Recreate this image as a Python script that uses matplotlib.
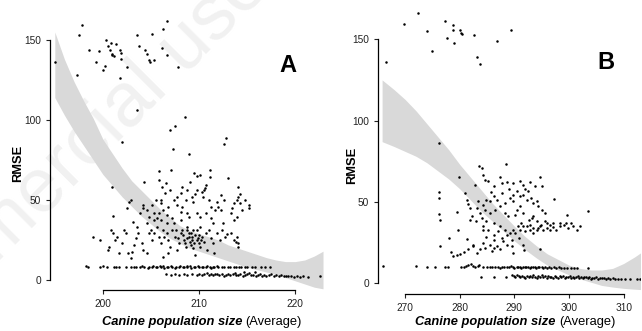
#!/usr/bin/env python3
"""RMSE against average canine population size, two panels (A, B)."""

import matplotlib
matplotlib.use("Agg")
import matplotlib.pyplot as plt
from matplotlib import font_manager

NARROW = ["Liberation Sans Narrow", "Liberation Sans", "DejaVu Sans"]
HAS_NARROW = any(f.name == "Liberation Sans Narrow"
                 for f in font_manager.fontManager.ttflist)

# ---- panel A data (x = average population size, y = RMSE) ----
a_high = [
    (195.0, 136.5), (197.3, 128), (197.5, 153), (197.8, 159.6), (198.6, 143.7),
    (199.3, 136), (199.6, 143), (200.0, 131), (200.2, 134), (200.3, 150),
    (200.5, 146), (200.7, 143.7), (200.8, 148), (200.9, 141), (201.0, 140.6),
    (201.2, 140), (201.4, 147.5), (201.8, 143.7), (201.9, 141.7), (201.9, 138),
    (201.8, 126), (202.5, 133), (203.5, 153), (203.8, 146.5), (204.4, 144),
    (204.6, 141), (204.8, 137.7), (204.9, 136.5), (205.1, 153.7), (205.3, 137.5),
    (206.2, 144.8), (206.3, 156.7), (206.7, 161.7), (206.7, 140.6), (207.8, 133),
    (203.6, 106), (202.0, 86.5), (208.5, 102), (207.0, 94), (207.5, 96),
    (207.3, 82), (209.0, 79), (212.6, 85), (212.8, 89), (201.0, 58), (201.1, 40),
    (204.3, 61), (205.8, 68), (207.1, 69), (209.5, 67), (211.1, 69), (213.0, 64),
]
a_cloud = [
    (210.3, 55.2), (210.6, 57.3), (210.4, 52), (211.0, 50), (211.3, 45.8),
    (211.7, 43.8), (211.9, 49), (212.0, 45.8), (212.3, 43.8), (212.6, 50),
    (213.3, 41.7), (213.4, 44.8), (213.6, 48), (214.0, 50), (214.1, 52),
    (214.3, 54), (214.1, 58.3), (214.3, 48), (214.5, 43.8), (214.8, 50),
    (215.2, 46.9), (215.2, 44.8), (214.0, 39.6), (213.6, 37.5), (209.3, 52),
    (209.6, 54), (209.8, 56), (209.4, 49), (208.6, 50), (208.2, 45.8),
    (207.7, 46.9), (207.4, 50), (206.8, 45.8), (206.3, 43.8), (206.0, 48),
    (205.8, 41.7), (205.5, 50), (205.1, 46.9), (204.6, 43.8), (204.2, 44.8),
    (203.9, 41.7), (204.8, 39.6), (205.3, 37.5), (205.6, 38.5), (206.7, 40.6),
    (207.2, 38.5), (208.1, 42.7), (208.8, 41.7), (209.0, 39.6), (209.8, 41.7),
    (210.1, 39.6), (210.7, 41.7), (211.2, 38.5), (208.2, 58.3), (208.1, 54.2),
    (208.8, 56.3), (209.1, 61.5), (209.8, 65), (210.1, 65.6), (210.5, 56.3),
    (211.1, 64.6), (207.0, 56.3), (207.7, 52), (206.5, 54.2), (206.2, 58.3),
    (205.8, 62.5), (206.6, 60.4), (210.7, 59.4), (212.3, 53), (202.7, 49),
    (202.5, 44.8), (202.9, 50), (200.8, 31.3), (201.1, 29.2), (201.3, 25),
    (200.6, 20.8), (200.5, 18.8), (201.5, 27), (202.0, 22.9), (201.7, 16.7),
    (202.2, 31.3), (202.4, 29.2), (202.6, 16.7), (202.9, 13.5), (203.0, 17.7),
    (203.2, 21.9), (203.4, 26), (203.1, 36.5), (203.5, 33.3), (203.7, 29.2),
    (204.1, 22.9), (204.2, 18.8), (204.6, 16.7), (204.8, 29.2), (205.0, 31.3),
    (205.1, 25), (205.3, 29.2), (205.6, 33.3), (205.8, 27), (206.0, 22.9),
    (206.3, 31.3), (206.4, 27), (206.7, 29.2), (206.8, 25), (207.0, 20.8),
    (207.2, 31.3), (207.4, 35.4), (207.5, 27), (207.7, 18.8), (207.9, 22.9),
    (208.1, 29.2), (208.2, 31.3), (208.4, 25), (208.6, 20.8), (208.8, 26),
    (209.0, 29.2), (209.1, 24), (209.2, 21.9), (209.3, 27), (209.4, 19.8),
    (209.5, 22.9), (209.6, 15.6), (209.8, 25), (210.0, 28.1), (210.1, 20.8),
    (210.5, 24), (210.7, 29.2), (211.0, 31.3), (211.2, 26), (211.5, 22.9),
    (211.9, 29.2), (212.2, 25), (212.4, 31.3), (212.7, 27), (213.3, 29.2),
    (213.6, 25), (214.0, 27), (214.1, 20.8), (214.1, 22.9), (206.3, 14.6),
    (206.8, 16.7), (204.6, 35.4), (205.3, 41.7), (206.0, 37.5), (206.7, 35.4),
    (208.1, 37.5), (208.8, 33.3), (209.8, 31.3), (210.1, 33.3), (211.5, 35.4),
    (212.5, 35.8), (199.0, 27), (199.7, 25), (204.2, 47), (206.0, 50),
    (207.6, 31.3), (207.8, 26), (208.3, 28.1), (208.5, 22.9), (208.8, 31.3),
    (209.0, 27.1), (209.2, 29.2), (209.3, 25), (209.4, 31.3), (209.6, 28.1),
    (209.9, 26), (210.0, 22.9), (210.2, 25), (210.3, 27.1), (211.6, 17),
    (213.8, 24), (212.9, 29), (210.8, 19),
]
a_row_upper = [
    (198.2, 8.6), (198.5, 8.4), (199.7, 8.2), (200.0, 8.5), (200.4, 8.0),
    (201.2, 8.3), (201.4, 7.9), (201.7, 8.1), (202.4, 8.2), (202.9, 8.4),
    (203.2, 7.9), (203.4, 8.1), (203.9, 8.0), (204.1, 8.6), (204.3, 8.2),
    (204.7, 7.8), (204.8, 8.4), (205.1, 8.0), (205.2, 8.7), (205.5, 8.2),
    (205.6, 7.9), (205.9, 8.5), (206.0, 8.1), (206.3, 8.8), (206.4, 7.8),
    (206.7, 8.3), (206.8, 8.0), (207.1, 8.6), (207.2, 8.2), (207.5, 7.7),
    (207.6, 8.4), (207.9, 8.0), (208.0, 8.7), (208.3, 8.2), (208.4, 7.9),
    (208.7, 8.5), (208.8, 8.1), (209.1, 8.8), (209.2, 7.8), (209.5, 8.3),
    (209.6, 8.0), (209.9, 8.6), (210.0, 8.2), (210.3, 7.9), (210.4, 8.4),
    (210.7, 8.0), (210.8, 8.5), (211.1, 8.1), (211.2, 7.8), (211.5, 8.3),
    (211.6, 8.0), (211.9, 8.5), (212.0, 8.1), (212.4, 7.9), (212.6, 8.3),
    (213.0, 8.0), (213.2, 8.4), (213.6, 7.9), (213.8, 8.2), (214.2, 8.0),
    (214.4, 8.3), (214.8, 7.9), (215.0, 8.1), (215.5, 8.0), (215.8, 8.2),
    (216.4, 7.9), (216.9, 8.0), (217.4, 8.1),
]
a_row_lower = [
    (206.6, 3.6), (207.1, 3.2), (207.5, 3.8), (207.9, 3.0), (208.4, 3.5),
    (208.8, 3.1), (209.3, 3.7), (209.8, 3.3), (210.0, 3.9), (210.3, 3.0),
    (210.5, 3.6), (210.8, 4.1), (211.0, 3.2), (211.2, 3.8), (211.5, 2.9),
    (211.7, 3.5), (211.9, 4.0), (212.1, 3.1), (212.4, 3.6), (212.6, 2.8),
    (212.8, 3.4), (213.0, 3.9), (213.2, 3.0), (213.5, 3.5), (213.7, 4.2),
    (213.9, 2.9), (214.1, 3.3), (214.3, 3.8), (214.6, 2.7), (214.8, 3.2),
    (215.0, 3.7), (215.2, 4.4), (215.4, 2.9), (215.6, 3.4), (215.9, 2.6),
    (216.1, 3.1), (216.3, 3.6), (216.6, 2.8), (216.8, 3.3), (217.0, 2.5),
    (217.3, 3.0), (217.5, 3.5), (217.8, 2.6), (218.0, 3.1), (218.3, 2.4),
    (218.5, 2.9), (218.8, 2.3), (219.0, 2.8), (219.3, 2.2), (219.6, 2.6),
    (219.9, 2.1), (220.2, 2.5), (220.5, 2.0), (220.8, 2.3), (221.3, 1.9),
    (222.6, 2.2), (214.7, 5.0), (215.8, 4.8),
]
a_band_x = [195, 196, 197, 198, 199, 200, 201, 202, 203, 204, 205, 206, 207,
            208, 209, 210, 211, 212, 213, 214, 215, 216, 217, 218, 219, 220,
            221, 222, 222.9]
a_band_lo = [114, 103, 93, 84, 75, 66, 59, 52, 46, 40, 35, 30, 26, 23, 20,
             18, 16, 14, 12, 10, 8, 6.5, 5, 3.5, 1.5, -0.5, -2.5, -4.5, -5.5]
a_band_hi = [155, 138, 124, 112, 101, 88, 79, 70, 62, 56, 50, 44, 39, 34, 31,
             29, 27, 25, 22, 20, 18, 16, 14, 12.5, 11.5, 11.5, 12.5, 15, 18]

# ---- panel B data ----
b_high = [
    (266.5, 136), (269.8, 159.4), (272.4, 166), (274.1, 154.8), (274.9, 143),
    (277.3, 161), (277.7, 150.6), (278.7, 156), (278.8, 159), (278.9, 147.5),
    (280.0, 156), (280.2, 153.6), (280.4, 153), (282.7, 152.9), (283.2, 139),
    (283.7, 134.5), (286.8, 148.7), (289.4, 155.8), (276.2, 86),
    (276.2, 55.9), (276.2, 52.4), (276.2, 42.5), (276.4, 38.9), (276.4, 22.5),
    (278.1, 28), (279.8, 65.2), (279.5, 43.6), (279.6, 32.4), (281.6, 48.8),
]
b_cloud = [
    (283.6, 72.3), (284.0, 70.7), (288.5, 73.4), (287.4, 65.2), (284.3, 66.6),
    (284.6, 63.5), (285.2, 62.5), (282.8, 60.5), (286.2, 59.4), (287.7, 61.5),
    (288.6, 61.9), (289.7, 61.5), (291.0, 62.5), (292.9, 61.9), (293.8, 59.4),
    (295.0, 59.4), (294.7, 65.2), (291.6, 60.5), (292.0, 57.8), (292.5, 56.4),
    (290.4, 56.4), (289.8, 54.3), (291.0, 53.3), (291.6, 54.3), (292.3, 51.2),
    (293.0, 52.3), (293.5, 49.2), (294.1, 50.2), (294.4, 47.1), (295.0, 45.1),
    (295.6, 43), (291.0, 47.1), (290.4, 45.1), (289.8, 50.2), (289.2, 52.3),
    (288.3, 49.2), (287.7, 55.3), (286.8, 51.2), (286.2, 53.3), (285.5, 50.2),
    (284.9, 51.2), (284.3, 48.2), (283.4, 50.2), (283.1, 46.1), (283.7, 43),
    (284.6, 45.1), (285.5, 43), (286.5, 45.1), (287.4, 47.1), (288.3, 43),
    (288.9, 41), (290.1, 42), (291.6, 43), (292.6, 38.9), (293.5, 41),
    (294.1, 37.9), (292.9, 35.9), (281.3, 51.2), (280.9, 55.3), (281.8, 46.1),
    (282.2, 41), (281.8, 38.9), (283.0, 37.9), (284.0, 40), (284.9, 37.9),
    (286.2, 36.9), (287.4, 34.8), (288.3, 32.8), (289.2, 30.7), (289.8, 32.8),
    (290.7, 34.8), (291.3, 36.9), (284.3, 34.8), (285.2, 32.8), (286.2, 29.7),
    (287.1, 31.8), (287.7, 27.7), (288.6, 29.7), (289.5, 26.6), (284.3, 32.8),
    (291.0, 32.8), (291.6, 34.8), (292.3, 34.8), (292.9, 32.8), (293.5, 33.8),
    (294.1, 32.8), (294.7, 34.8), (295.3, 32.8), (295.9, 33.8), (296.5, 32.8),
    (297.1, 34.2), (297.7, 32.8), (298.4, 34.8), (299.0, 35.9), (299.5, 36.9),
    (299.9, 33.8), (300.3, 36.9), (300.8, 34.8), (301.4, 32.8), (302.0, 34.8),
    (299.6, 42), (303.4, 44.3), (297.3, 51.6), (298.4, 36.9), (296.5, 35.9),
    (295.6, 37.9), (294.8, 35.9), (294.4, 33.8), (291.9, 31.8), (290.1, 30.7),
    (293.5, 30.7), (295.9, 36.9), (297.1, 36.9), (278.5, 18.9), (278.8, 16.8),
    (279.5, 17.4), (280.1, 18), (280.8, 18.9), (281.6, 20.9), (282.5, 22.5),
    (283.1, 18.4), (283.7, 20.9), (284.6, 21.5), (285.5, 23.6), (285.9, 19.5),
    (286.2, 21.5), (286.8, 22.5), (287.4, 20.9), (288.0, 25.6), (288.6, 23.6),
    (289.5, 22.5), (289.8, 18.4), (291.6, 23.6), (291.8, 20.5), (294.7, 20.9),
    (284.9, 28.3), (286.2, 26.2), (284.2, 24.6), (281.3, 27), (282.4, 23.6),
    (290.8, 28), (293.2, 40), (289.0, 58), (285.8, 56),
]
b_row_upper = [
    (266.0, 10.6), (272.0, 10.2), (274.1, 10.0), (275.5, 9.8), (277.3, 9.9),
    (277.8, 9.7), (280.2, 10.0), (280.7, 9.6), (281.2, 10.4), (281.6, 11.3),
    (282.0, 11.9), (282.4, 10.5), (282.8, 9.8), (283.3, 10.2), (283.6, 11.0),
    (284.3, 9.9), (285.0, 9.7), (285.5, 10.1), (285.9, 9.6), (286.5, 9.8),
    (287.0, 10.0), (287.4, 9.5), (287.8, 10.1), (288.2, 9.7), (288.6, 9.9),
    (289.0, 9.6), (289.3, 10.2), (289.7, 9.8), (290.0, 9.5), (290.4, 10.0),
    (290.7, 9.7), (291.0, 9.9), (291.3, 9.5), (291.6, 9.8), (291.9, 10.1),
    (292.2, 9.6), (292.5, 9.9), (292.8, 9.5), (293.1, 9.8), (293.4, 9.6),
    (293.7, 10.0), (294.0, 9.5), (294.3, 9.8), (294.6, 9.6), (295.0, 9.9),
    (295.3, 9.5), (295.6, 9.7), (296.0, 9.4), (296.4, 9.8), (296.8, 9.5),
    (297.2, 9.7), (297.6, 9.4), (298.1, 9.6), (298.5, 9.3), (299.0, 9.5),
    (299.6, 9.4), (300.3, 9.5), (300.9, 9.3), (301.5, 9.4), (303.4, 9.5),
]
b_row_lower = [
    (283.9, 3.5), (286.2, 4.0), (288.5, 3.7), (289.5, 5.0), (289.9, 4.4),
    (290.2, 3.9), (290.5, 4.8), (290.8, 4.1), (291.1, 3.6), (291.4, 4.5),
    (291.7, 4.0), (292.0, 3.3), (292.3, 4.6), (292.6, 3.8), (292.9, 4.2),
    (293.2, 3.4), (293.5, 4.7), (293.8, 3.9), (294.1, 3.2), (294.4, 4.3),
    (294.7, 3.7), (295.0, 4.8), (295.3, 3.5), (295.6, 4.1), (295.9, 3.1),
    (296.2, 4.4), (296.5, 3.6), (296.8, 4.0), (297.1, 3.3), (297.4, 4.6),
    (297.7, 3.8), (298.0, 3.2), (298.3, 4.2), (298.6, 3.5), (298.9, 4.5),
    (299.2, 3.0), (299.5, 3.9), (299.8, 3.4), (300.1, 4.3), (300.4, 3.1),
    (300.7, 3.7), (301.0, 2.9), (301.3, 3.6), (301.6, 4.1), (301.9, 3.2),
    (302.2, 3.7), (302.5, 2.8), (302.8, 3.4), (303.1, 3.9), (303.4, 3.0),
    (303.7, 3.5), (304.0, 2.7), (304.3, 3.3), (304.6, 3.0), (305.0, 3.5),
    (305.3, 2.6), (305.7, 3.1), (306.0, 2.8), (306.4, 3.3), (306.8, 2.6),
    (307.2, 3.0), (307.6, 2.5), (308.0, 2.9), (308.5, 2.4), (309.0, 2.7),
    (309.6, 2.3), (310.3, 2.5), (311.2, 2.2), (312.4, 2.4), (313.0, 2.3),
]
b_band_x = [265.8, 268, 270, 272, 274, 276, 278, 280, 282, 284, 286, 288, 290,
            292, 294, 296, 298, 300, 302, 304, 306, 308, 310, 312, 313.3]
b_band_lo = [87, 84, 81, 78, 74, 69, 64, 58, 51, 44, 38, 32, 26, 20.5, 15.5,
             11, 8, 5, 2.5, 0.5, -1.5, -2.5, -3.3, -3.8, -4.1]
b_band_hi = [125, 119, 113, 106, 98, 90, 82, 73, 65, 57, 49, 42, 35, 28.5,
             23, 18, 14.5, 11, 9, 8, 8, 9, 12, 16, 19]

a_xticks = [200, 210, 220]
b_xticks = [270, 280, 290, 300, 310]
yticks = [0, 50, 100, 150]

TICK_SIZE = 8 if HAS_NARROW else 7.3
LABEL_SIZE = 10.5 if HAS_NARROW else 9.3


def draw_panel(ax, groups, band, xlim, ylim, xticks, letter):
    bx, lo, hi = band
    ax.fill_between(bx, lo, hi, color="#d9d9d9", linewidth=0, zorder=1)
    for pts in groups:
        xs = [p[0] for p in pts]
        ys = [p[1] for p in pts]
        ax.plot(xs, ys, "o", color="black", markersize=1.8, markeredgewidth=0,
                zorder=2)
    ax.set_xlim(*xlim)
    ax.set_ylim(*ylim)
    ax.patch.set_alpha(0)
    for side in ("top", "right"):
        ax.spines[side].set_visible(False)
    ax.spines["left"].set_bounds(yticks[0], yticks[-1])
    ax.spines["bottom"].set_bounds(xticks[0], xticks[-1])
    for side in ("left", "bottom"):
        ax.spines[side].set_linewidth(0.9)
    ax.set_xticks(xticks)
    ax.set_yticks(yticks)
    ax.tick_params(length=3, width=0.8, pad=3.5, labelsize=TICK_SIZE,
                   colors="#222222")
    for lab in ax.get_xticklabels() + ax.get_yticklabels():
        lab.set_family(NARROW)
    ax.text(0.87, 0.80, letter, transform=ax.transAxes, fontsize=17,
            fontweight="bold", family=["Liberation Sans", "DejaVu Sans"],
            ha="center", va="center")


def mixed_xlabel(fig, cx, cy):
    r = fig.canvas.get_renderer()
    t1 = fig.text(0, cy, "Canine population size", fontsize=LABEL_SIZE,
                  fontweight="bold", fontstyle="italic", family=NARROW,
                  va="center")
    t2 = fig.text(0, cy, "(Average)", fontsize=LABEL_SIZE, family=NARROW,
                  va="center")
    w1 = t1.get_window_extent(r).width / fig.bbox.width
    w2 = t2.get_window_extent(r).width / fig.bbox.width
    gap = 3.5 / fig.bbox.width
    x0 = cx - (w1 + gap + w2) / 2
    t1.set_x(x0)
    t2.set_x(x0 + w1 + gap)


def main():
    fig = plt.figure(figsize=(6.42, 3.31), dpi=100)
    fig.patch.set_facecolor("white")

    fig.text(0.105, 0.50, "Non-commercial use only", rotation=45,
             rotation_mode="anchor", ha="center", va="center", fontsize=55,
             color="#f1f1f1", family=["Liberation Sans", "DejaVu Sans"],
             zorder=-5)

    ax_a = fig.add_axes([50 / 642, 41 / 331, 273 / 642, 280 / 331])
    ax_b = fig.add_axes([378 / 642, 37 / 331, 262 / 642, 289 / 331])

    draw_panel(ax_a, [a_high, a_cloud, a_row_upper, a_row_lower],
               (a_band_x, a_band_lo, a_band_hi), (194.5, 222.9),
               (-6.25, 168.75), a_xticks, "A")
    draw_panel(ax_b, [b_high, b_cloud, b_row_upper, b_row_lower],
               (b_band_x, b_band_lo, b_band_hi), (265.05, 313.0),
               (-6.77, 171.1), b_xticks, "B")

    for x_px, y_px in ((18, 163), (352, 165)):
        fig.text(x_px / 642, 1 - y_px / 331, "RMSE", rotation=90,
                 fontsize=LABEL_SIZE, fontweight="bold", family=NARROW,
                 ha="center", va="center")

    fig.canvas.draw()
    mixed_xlabel(fig, 202 / 642, 1 - 322 / 331)
    mixed_xlabel(fig, 515 / 642, 1 - 322 / 331)

    fig.savefig("out.png", dpi=100)


if __name__ == "__main__":
    main()
